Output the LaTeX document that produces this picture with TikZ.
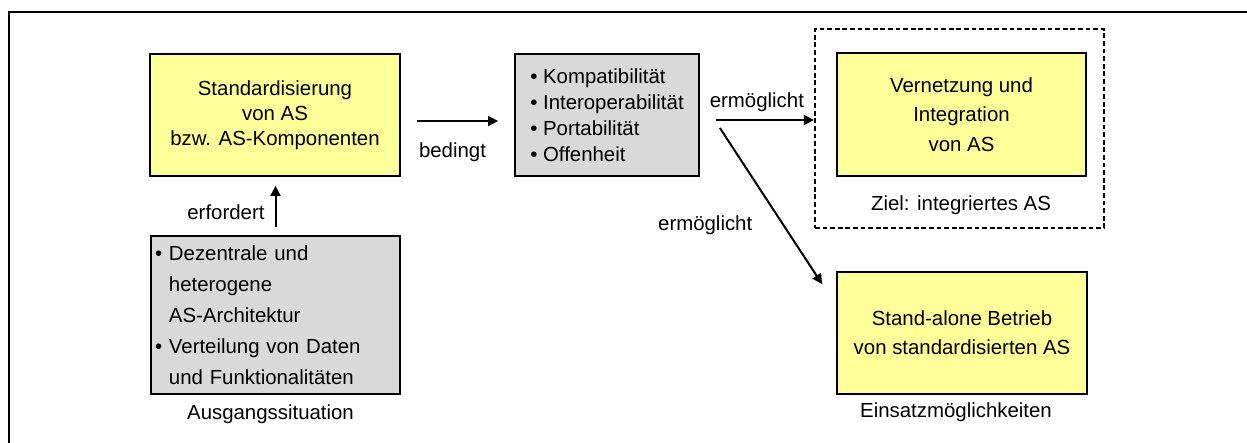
\documentclass[tikz,border=0pt]{standalone}
\usepackage{fontspec}
\setmainfont{Liberation Sans}
\usetikzlibrary{arrows.meta}
\definecolor{asgelb}{HTML}{FFFF99}
\definecolor{asgrau}{HTML}{D9D9D9}
\newcommand{\asschrift}[1]{\fontsize{10.2pt}{#1}\selectfont}
\newcommand{\punkt}{\textbullet\ }
\newcommand{\einzug}{\hphantom{\textbullet\ }}
\tikzset{
	gelbbox/.style={draw, fill=asgelb, line width=0.9pt, align=center, inner sep=0pt},
	graubox/.style={draw, fill=asgrau, line width=0.9pt, align=left},
	pfeil/.style={line width=1pt, -{Triangle[length=5pt,width=5pt]}},
	beschr/.style={font=\asschrift{12pt}, inner sep=2pt}
}

\begin{document}
\begin{tikzpicture}[x=0.5pt, y=-0.5pt]
	\useasboundingbox (0,0) rectangle (1247,443);
	\draw[line width=1pt] (1260,12) -- (9,12) -- (9,460);

	\node[gelbbox, minimum width=125pt, minimum height=61pt, font=\asschrift{12.5pt}] (std) at (275,115)
		{Standardisierung\\von AS\\bzw. AS-Komponenten};

	\node[graubox, minimum width=124.5pt, minimum height=79pt, text width=120.5pt, inner xsep=2pt, font=\asschrift{15.5pt}] (lage) at (275.5,315)
		{\punkt Dezentrale und\\\einzug heterogene\\\einzug AS-Architektur\\\punkt Verteilung von Daten\\\einzug und Funktionalitäten};
	\node[beschr] (ausgang) at (270.5,414) {Ausgangssituation};

	\node[graubox, minimum width=92pt, minimum height=61pt, font=\asschrift{13pt}] (merk) at (607,115)
		{\punkt Kompatibilität\\\punkt Interoperabilität\\\punkt Portabilität\\\punkt Offenheit};

	\node[draw, dashed, dash pattern=on 2.4pt off 1.4pt, line width=1.1pt, minimum width=144.5pt, minimum height=99.5pt, inner sep=0pt] (ziel) at (959.5,128.5) {};
	\node[gelbbox, minimum width=124.5pt, minimum height=61.5pt, font=\asschrift{14.75pt}] (vernetz) at (961.5,114.5)
		{Vernetzung und\\Integration\\von AS};
	\node[beschr] (zieltext) at (961,205) {Ziel: integriertes AS};

	\node[gelbbox, minimum width=125pt, minimum height=61pt, font=\asschrift{14.5pt}] (betrieb) at (962,333)
		{Stand-alone Betrieb\\von standardisierten AS};
	\node[beschr] (einsatz) at (956,412) {Einsatzmöglichkeiten};

	\draw[pfeil, shorten <=4pt, shorten >=4.5pt] (lage.north) -- node[beschr, pos=0.4, left, xshift=-3pt] (erfordert) {erfordert} (lage.north |- std.south);
	\draw[pfeil, shorten <=8pt, shorten >=8pt] ([yshift=-3pt]std.east) -- node[beschr, below, xshift=-2.5pt, yshift=-8.5pt] (bedingt) {bedingt} ([yshift=-3pt]merk.west);
	\draw[pfeil, shorten <=8pt] ([yshift=-2.5pt]merk.east) -- node[beschr, above, yshift=1.8pt] (moeglich1) {ermöglicht} ([yshift=4.25pt]ziel.west);
	\draw[pfeil] ([xshift=10pt,yshift=-6.5pt]merk.east) -- node[beschr, pos=0.62, left, xshift=-13pt] (moeglich2) {ermöglicht} ([xshift=-7pt,yshift=-6.5pt]betrieb.north west);
\end{tikzpicture}
\end{document}
